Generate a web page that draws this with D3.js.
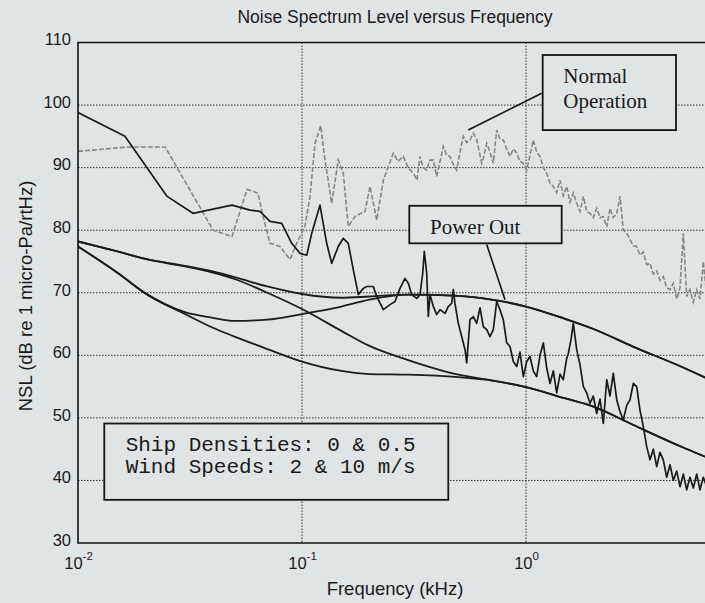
<!DOCTYPE html>
<html>
<head>
<meta charset="utf-8">
<script src="https://cdn.jsdelivr.net/npm/d3@7"></script>
<style>
  html, body { margin: 0; padding: 0; background: #dfe4e5; }
  svg { display: block; }
</style>
</head>
<body>
<div id="chart"></div>
<script>
// frequencies in kHz, levels in dB re 1 micro-Pa/rtHz

// ambient noise model curves
const modelFreq = [0.01, 0.015, 0.02, 0.03, 0.04, 0.05, 0.07, 0.1, 0.15, 0.2, 0.3, 0.5, 0.7, 1, 1.5, 2, 3, 5, 7, 10];
const shipHalfWind10 = [78.2, 76.6, 75.4, 74.3, 73.4, 72.5, 71.0, 69.8, 69.2, 69.4, 69.7, 69.5, 68.9, 67.8, 65.8, 64.2, 61.4, 58.1, 55.7, 53.0];
const shipZeroWind10 = [77.4, 73.2, 69.9, 66.9, 66.0, 65.5, 65.7, 66.6, 67.8, 68.9, 69.7, 69.5, 68.9, 67.8, 65.8, 64.2, 61.4, 58.1, 55.7, 53.0];
const shipHalfWind2 = [78.2, 76.6, 75.4, 74.2, 73.2, 72.2, 70.0, 67.4, 63.9, 61.5, 59.2, 56.9, 56.0, 54.9, 53.1, 51.8, 48.9, 45.3, 43.1, 40.5];
const shipZeroWind2 = [77.4, 73.2, 69.9, 66.6, 64.4, 63.0, 61.0, 59.0, 57.5, 57.0, 56.9, 56.5, 56.0, 54.9, 53.1, 51.8, 48.9, 45.3, 43.1, 40.5];

// measured spectrum, normal operation (grey)
const normalFreq = [0.01, 0.0166, 0.0245, 0.0401, 0.0487, 0.0568, 0.0586, 0.0636, 0.067, 0.072, 0.0798, 0.0884, 0.0947,
  0.1031, 0.1086, 0.1143, 0.1212, 0.1267, 0.1357, 0.1452, 0.1529, 0.1609, 0.1724, 0.1911, 0.2012, 0.2156, 0.2307,
  0.2557, 0.2683, 0.2833, 0.2973, 0.314, 0.3262, 0.3364, 0.3469, 0.3604, 0.3728, 0.3857, 0.3994, 0.4132, 0.4274,
  0.4422, 0.4578, 0.4735, 0.4904, 0.5075, 0.5248, 0.5436, 0.5623, 0.5817, 0.6024, 0.6232, 0.6342, 0.6448, 0.6677,
  0.6907, 0.7145, 0.7399, 0.7654, 0.7919, 0.82, 0.8483, 0.8777, 0.9089, 0.9402, 0.9726, 1.007, 1.042, 1.078, 1.116,
  1.155, 1.195, 1.237, 1.28, 1.324, 1.371, 1.419, 1.467, 1.519, 1.572, 1.626, 1.684, 1.742, 1.803, 1.866, 1.931,
  1.997, 2.068, 2.14, 2.214, 2.293, 2.371, 2.453, 2.541, 2.628, 2.719, 2.816, 2.913, 3.013, 3.12, 3.228, 3.34,
  3.458, 3.577, 3.701, 3.832, 3.964, 4.101, 4.247, 4.395, 4.546, 4.707, 4.87, 5.038, 5.217, 5.396, 5.583, 5.781,
  5.981, 6.187, 6.407, 6.628];
const normalLevel = [92.6, 93.3, 93.3, 80.0, 79.0, 86.5, 86.4, 85.9, 82.2, 77.9, 77.4, 75.3, 77.9,
  80.6, 85.4, 93.9, 96.7, 91.2, 84.3, 91.2, 89.1, 80.6, 82.2, 83.0, 87.0, 81.6, 88.0,
  92.3, 91.0, 91.8, 90.0, 89.1, 88.0, 91.8, 90.0, 89.6, 91.2, 91.2, 88.6, 91.0, 93.4,
  92.0, 91.8, 90.5, 89.6, 92.5, 95.0, 94.0, 94.4, 95.5, 94.5, 92.0, 90.7, 91.5, 93.9,
  92.5, 90.7, 96.0, 94.5, 94.4, 93.0, 91.8, 93.0, 92.3, 91.0, 90.7, 89.6, 92.0, 94.4, 92.5,
  91.8, 90.0, 89.1, 87.5, 87.0, 86.0, 88.0, 85.5, 87.0, 84.5, 86.0, 84.3, 83.0, 85.4, 83.0, 82.7,
  82.0, 83.5, 82.0, 82.2, 80.5, 83.5, 82.0, 82.7, 85.4, 80.0, 79.5, 78.5, 77.5, 77.4, 76.0, 76.5,
  74.5, 74.7, 73.0, 73.5, 72.0, 72.6, 70.8, 70.5, 71.5, 69.0, 70.8, 79.5, 69.4, 70.5, 68.5, 70.5,
  69.0, 75.0, 69.5, 70.0];

// measured spectrum, power out (black)
const powerFreq = [0.01, 0.0162, 0.025, 0.0326, 0.0487, 0.0586, 0.0649, 0.072, 0.0812, 0.09, 0.098,
  0.105, 0.1105, 0.1203, 0.1289, 0.1357, 0.1452, 0.1529, 0.1609, 0.1694, 0.1784, 0.1878, 0.1945, 0.2081,
  0.2156, 0.2307, 0.2471, 0.2602, 0.2738, 0.2883, 0.2983, 0.3088, 0.3252, 0.3364, 0.3458, 0.3516, 0.3604,
  0.3663, 0.3728, 0.3857, 0.3994, 0.4132, 0.4349, 0.4498, 0.4658, 0.4735, 0.4819, 0.4986, 0.5163, 0.5342,
  0.5436, 0.5623, 0.5817, 0.6024, 0.6232, 0.6448, 0.6677, 0.6907, 0.7145, 0.7399, 0.7654, 0.7919, 0.82,
  0.8483, 0.878, 0.909, 0.94, 0.9726, 1.007, 1.042, 1.078, 1.116, 1.155, 1.195, 1.237, 1.28, 1.324, 1.371,
  1.419, 1.467, 1.519, 1.545, 1.588, 1.626, 1.684, 1.742, 1.803, 1.866, 1.931, 1.997, 2.068, 2.14, 2.214,
  2.293, 2.371, 2.453, 2.541, 2.628, 2.719, 2.816, 2.913, 3.013, 3.12, 3.228, 3.34, 3.458, 3.577, 3.701,
  3.832, 3.964, 4.101, 4.247, 4.395, 4.546, 4.707, 4.87, 5.038, 5.217, 5.396, 5.583, 5.781, 5.981, 6.187,
  6.407, 6.628];
const powerLevel = [98.8, 95.0, 85.4, 82.7, 84.0, 83.2, 83.0, 81.4, 81.1, 77.9, 76.3,
  76.0, 79.5, 84.0, 77.9, 74.7, 77.4, 78.7, 77.9, 73.7, 69.7, 70.7, 71.0, 71.0,
  69.4, 67.3, 68.1, 68.6, 70.7, 72.3, 71.5, 69.7, 69.1, 69.7, 73.1, 76.6, 73.1,
  66.2, 69.7, 67.8, 66.5, 67.3, 66.7, 67.8, 68.3, 70.5, 68.3, 65.1, 63.0, 60.9,
  58.8, 65.7, 66.2, 65.1, 67.6, 64.6, 64.1, 63.0, 64.1, 68.6, 67.3, 65.7, 62.0,
  61.4, 59.0, 58.2, 60.5, 56.6, 59.0, 59.8, 57.5, 56.6, 60.0, 62.0, 58.0, 55.5, 57.5, 54.0,
  57.0, 56.1, 59.5, 60.3, 62.5, 65.1, 60.9, 58.5, 55.0, 54.0, 52.3, 53.5, 50.7, 53.0, 49.1,
  56.1, 53.5, 57.1, 52.9, 51.0, 49.7, 52.0, 52.9, 55.5, 55.0, 51.2, 48.6, 45.4, 43.3, 45.0,
  42.2, 44.5, 43.3, 40.5, 42.5, 40.0, 41.5, 39.0, 41.0, 38.5, 40.5, 38.8, 41.0, 38.5, 40.5,
  39.0, 40.0];

// axes
const xGrid = [0.1, 1];
const xTicks = [0.01, 0.1, 1];
const xTickExp = ["-2", "-1", "0"];
const yTicks = [30, 40, 50, 60, 70, 80, 90, 100, 110];

// annotation boxes: [f0, f1] kHz, [dBtop, dBbottom]
const noteLines = [["Normal", "Operation"], ["Power Out"], ["Ship Densities: 0 & 0.5", "Wind Speeds: 2 & 10 m/s"]];
const noteFreq = [[1.187, 4.674], [0.3013, 1.443], [0.0131, 0.4498]];
const noteLevel = [[108.0, 96.0], [83.9, 77.9], [49.1, 36.9]];
// pointer lines: [fStart, dBStart, fEnd, dBEnd]
const pointers = [[1.175, 101.9, 0.5524, 96.0], [0.6677, 77.7, 0.806, 68.9]];


class NoiseChart {
    constructor(){
        this.svg;
        this.plot;
        this.xScale;
        this.yScale;
        this.bg = "#dfe4e5";
    }

    init(){
        this.margin = {top: 42.5, left: 78};
        this.width = 672;
        this.height = 500.5;
        this.svg = d3.select("#chart").append("svg").attr("width", 705).attr("height", 603);
        this.svg.append("rect").attr("width", 705).attr("height", 603).attr("fill", this.bg);

        this.svg.append("defs").append("clipPath").attr("id", "clip")
            .append("rect").attr("width", this.width).attr("height", this.height);

        this.plot = this.svg.append("g").attr("transform", "translate(" + [this.margin.left, this.margin.top] + ")");

        this.xScale = d3.scaleLog().domain([0.01, 10]).range([0, this.width]);
        this.yScale = d3.scaleLinear().domain([30, 110]).range([this.height, 0]);
    }

    draw(){
        const x = this.xScale, y = this.yScale, plot = this.plot;

        // grid
        plot.append("g").selectAll("line").data(yTicks.slice(1, -1)).join("line")
            .attr("x1", 0).attr("x2", this.width)
            .attr("y1", d => y(d)).attr("y2", d => y(d))
            .attr("stroke", "#303030").attr("stroke-width", 1).attr("stroke-dasharray", "1.5,1.5");
        plot.append("g").selectAll("line").data(xGrid).join("line")
            .attr("x1", d => x(d)).attr("x2", d => x(d))
            .attr("y1", 0).attr("y2", this.height)
            .attr("stroke", "#303030").attr("stroke-width", 1).attr("stroke-dasharray", "1.5,1.5");

        const lines = plot.append("g").attr("clip-path", "url(#clip)");
        const line = d3.line().x(d => x(d[0])).y(d => y(d[1]));
        const smooth = d3.line().curve(d3.curveMonotoneX).x(d => x(d[0])).y(d => y(d[1]));

        lines.append("path")
            .attr("d", line(d3.zip(normalFreq, normalLevel)))
            .attr("fill", "none").attr("stroke", "#858787").attr("stroke-width", 1.6)
            .attr("stroke-dasharray", "5,2");

        [shipHalfWind10, shipZeroWind10, shipHalfWind2, shipZeroWind2].forEach(s => {
            lines.append("path")
                .attr("d", smooth(d3.zip(modelFreq, s)))
                .attr("fill", "none").attr("stroke", "#1c1c1c").attr("stroke-width", 1.8);
        });

        lines.append("path")
            .attr("d", line(d3.zip(powerFreq, powerLevel)))
            .attr("fill", "none").attr("stroke", "#1a1a1a").attr("stroke-width", 1.7)
            .attr("stroke-linejoin", "round");

        // frame
        plot.append("path")
            .attr("d", "M" + this.width + ",0H0V" + this.height + "H" + this.width)
            .attr("fill", "none").attr("stroke", "#111").attr("stroke-width", 1.6);

        // axes
        const sans = "'Liberation Sans', Arial, sans-serif";
        const yAxis = d3.axisLeft(y).tickValues(yTicks).tickSize(0).tickPadding(7);
        const gy = plot.append("g").call(yAxis);
        gy.select(".domain").remove();
        gy.selectAll("text").attr("dy", "0.14em")
            .style("font-family", sans).style("font-size", "16.5px").attr("fill", "#1a1a1a");

        const xAxis = d3.axisBottom(x).tickValues(xTicks).tickSize(0).tickFormat("");
        const gx = plot.append("g").attr("transform", "translate(0," + this.height + ")").call(xAxis);
        gx.select(".domain").remove();
        gx.selectAll(".tick text").each(function(d, i){
            const t = d3.select(this).attr("y", 26.3).attr("dy", 0)
                .style("font-family", sans).style("font-size", "16.5px")
                .attr("fill", "#1a1a1a").text(null);
            t.append("tspan").text("10");
            t.append("tspan").attr("dy", -9).style("font-size", "11.5px").text(xTickExp[i]);
        });

        // titles
        this.svg.append("text").attr("x", 395).attr("y", 23).attr("text-anchor", "middle")
            .style("font-family", sans).style("font-size", "17.5px").attr("fill", "#1a1a1a")
            .text("Noise Spectrum Level versus Frequency");
        this.svg.append("text").attr("x", 395).attr("y", 595).attr("text-anchor", "middle")
            .style("font-family", sans).style("font-size", "18.5px").attr("fill", "#1a1a1a")
            .text("Frequency (kHz)");
        this.svg.append("text").attr("transform", "translate(31.5,296) rotate(-90)").attr("text-anchor", "middle")
            .style("font-family", sans).style("font-size", "18.5px").attr("fill", "#1a1a1a")
            .text("NSL (dB re 1 micro-Pa/rtHz)");

        this.drawNotes();
    }

    drawNotes(){
        const x = this.xScale, y = this.yScale, plot = this.plot;

        pointers.forEach(p => {
            plot.append("line")
                .attr("x1", x(p[0])).attr("y1", y(p[1]))
                .attr("x2", x(p[2])).attr("y2", y(p[3]))
                .attr("stroke", "#151515").attr("stroke-width", 1.6);
        });

        const fonts = ["'Liberation Serif', 'Times New Roman', serif", "'Liberation Serif', 'Times New Roman', serif", "'Liberation Mono', 'Courier New', monospace"];
        const textPos = [[20.6, 28.3, 25], [20.7, 28, 25], [21.4, 27.7, 21.6]];

        noteLines.forEach((txt, i) => {
            const x0 = x(noteFreq[i][0]), x1 = x(noteFreq[i][1]);
            const y0 = y(noteLevel[i][0]), y1 = y(noteLevel[i][1]);
            plot.append("rect")
                .attr("x", x0).attr("y", y0).attr("width", x1 - x0).attr("height", y1 - y0)
                .attr("fill", this.bg).attr("stroke", "#151515").attr("stroke-width", 1.8);
            const t = plot.append("text")
                .style("font-family", fonts[i]).style("font-size", "21px").attr("fill", "#1a1a1a")
                .style("white-space", "pre");
            txt.forEach((s, k) => {
                t.append("tspan").attr("x", x0 + textPos[i][0]).attr("y", y0 + textPos[i][1] + k * textPos[i][2]).text(s);
            });
        });
    }
}

const chart = new NoiseChart();
chart.init();
chart.draw();
</script>
</body>
</html>
